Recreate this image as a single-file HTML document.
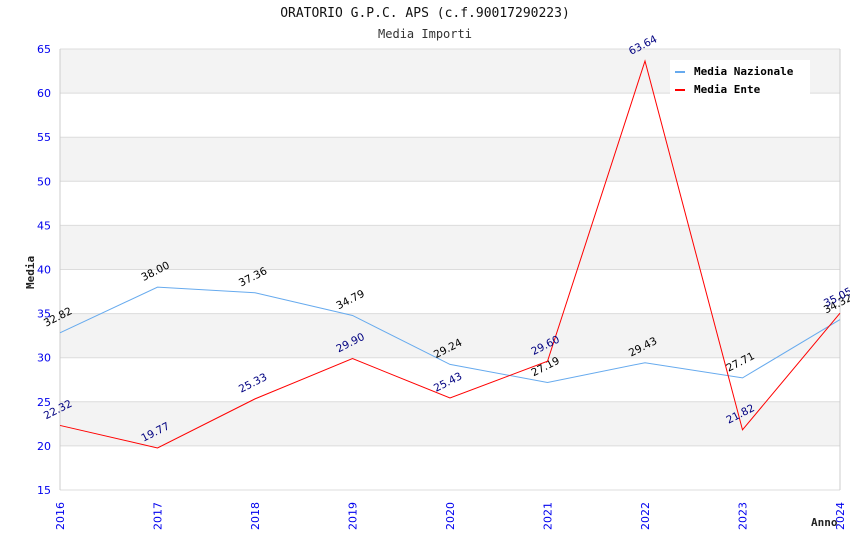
<!DOCTYPE html>
<html><head><meta charset="utf-8"><style>body{margin:0;background:#fff}svg{display:block}text{font-family:"DejaVu Sans","Liberation Sans",sans-serif}</style></head>
<body>
<svg id="c" width="850" height="550"></svg>
<script>
const years=["2016","2017","2018","2019","2020","2021","2022","2023","2024"];
const nazionale=[32.82,38.00,37.36,34.79,29.24,27.19,29.43,27.71,34.32];
const ente=[22.32,19.77,25.33,29.90,25.43,29.60,63.64,21.82,35.05];
const yTicks=[15,20,25,30,35,40,45,50,55,60,65];
const NS="http://www.w3.org/2000/svg";
const svg=document.getElementById('c');
const L=60,R=840,T=49,B=490;
const x=i=>L+(R-L)*i/(years.length-1);
const y=v=>B-(v-15)*(B-T)/50;
function mk(t,a,p){const e=document.createElementNS(NS,t);for(const k in a)e.setAttribute(k,a[k]);(p||svg).appendChild(e);return e;}
for(let k=0;k<yTicks.length-1;k++){
  if(k%2===1){const b=mk('rect',{x:L,y:y(yTicks[k+1]),width:R-L,height:y(yTicks[k])-y(yTicks[k+1]),fill:'#f3f3f3'});
  
  }
}
yTicks.forEach(v=>{
  const g=mk('line',{x1:L,x2:R,y1:y(v),y2:y(v),stroke:'#dcdcdc','stroke-width':1});
  
  
  const t=mk('text',{x:L-9,y:y(v)+4,'text-anchor':'end','font-size':11,fill:'#0000ee'});
  t.textContent=v;
  
  
});
mk('line',{x1:L,x2:L,y1:T,y2:B,stroke:'#ccc'});
mk('line',{x1:R,x2:R,y1:T,y2:B,stroke:'#ccc'});
years.forEach((yr,i)=>{
  const t=mk('text',{transform:`translate(${x(i)+4},${B+40}) rotate(-90)`,'font-size':11,fill:'#0000ee'});
  t.textContent=yr;
  
  
});
function series(vals,color,lc,name){
  const p=mk('polyline',{points:vals.map((v,i)=>x(i)+','+y(v)).join(' '),fill:'none',stroke:color,'stroke-width':1});
  
  
  vals.forEach((v,i)=>{
    const t=mk('text',{transform:`translate(${x(i)-14},${y(v)-6}) rotate(-27)`,'font-size':10.5,fill:lc});
    t.textContent=v.toFixed(2);
    
    
  });
}
series(nazionale,'#66aaee','#000','media-nazionale');
series(ente,'#ff0000','#000080','media-ente');
</script>
<div style="position:absolute;left:0;top:0;width:850px;height:550px;pointer-events:none;font-family:'DejaVu Sans Mono','Liberation Mono',monospace">
<div style="position:absolute;top:6px;width:850px;text-align:center;font-size:13px;color:#111">ORATORIO G.P.C. APS (c.f.90017290223)</div>
<div style="position:absolute;top:27px;width:850px;text-align:center;font-size:12px;color:#333">Media Importi</div>
<div style="position:absolute;left:24px;top:289px;transform:rotate(-90deg);transform-origin:left top;font-size:11px;font-weight:bold;color:#222">Media</div>
<div style="position:absolute;left:811px;top:516px;font-size:11px;font-weight:bold;color:#222">Anno</div>
<div style="position:absolute;left:670px;top:60px;width:140px;height:38px;background:#fff;font-size:11px;font-weight:bold;color:#000">
 <div style="position:absolute;left:5px;top:5px"><span style="display:inline-block;width:10px;height:2px;background:#66aaee;vertical-align:middle;margin-right:9px"></span>Media Nazionale</div>
 <div style="position:absolute;left:5px;top:23px"><span style="display:inline-block;width:10px;height:2px;background:#f00;vertical-align:middle;margin-right:9px"></span>Media Ente</div>
</div>
</div>
</body></html>
